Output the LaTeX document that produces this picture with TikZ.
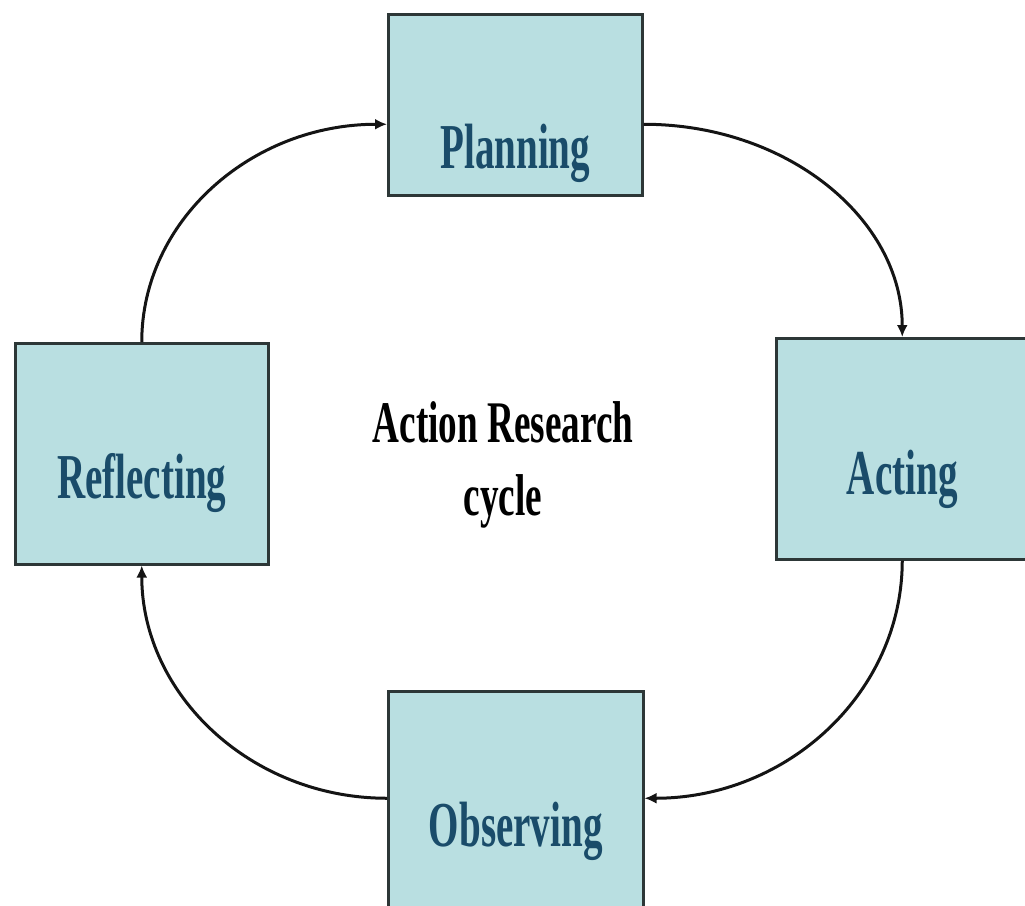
\documentclass[tikz,border=0pt]{standalone}
\usepackage{fontspec}
\newfontfamily\boxfont{Liberation Serif}[FakeStretch=0.61]
\newfontfamily\midfont{Liberation Serif}[FakeStretch=0.63]
\usetikzlibrary{arrows.meta}
\definecolor{boxfill}{RGB}{185,223,225}
\definecolor{boxtext}{RGB}{26,76,106}
\definecolor{boxline}{RGB}{45,55,55}
\definecolor{arrowc}{RGB}{20,20,20}
\begin{document}
\begin{tikzpicture}[x=1pt,y=-1pt,
  stage/.style={draw=boxline, line width=2.5pt, fill=boxfill, inner sep=0pt,
    anchor=north west, align=center, text=boxtext,
    font=\boxfont\bfseries\fontsize{64}{64}\selectfont},
  flow/.style={draw=arrowc, line width=3pt, -{Latex[length=12pt,width=11pt]}}]
\useasboundingbox (0,0) rectangle (1025,905);
\clip (0,0) rectangle (1025,905);
\node[stage, text width=254pt, text height=154pt, text depth=27pt] (plan) at (387,13) {Planning};
\node[stage, text width=252pt, text height=156pt, text depth=65pt] (act) at (775,337) {Acting};
\node[stage, text width=255pt, text height=155pt, text depth=90pt] (obs) at (387,690) {Observing};
\node[stage, text width=253pt, text height=155pt, text depth=66pt] (refl) at (14,342) {Reflecting};
\node[inner sep=0pt, align=center, text=black,
  font=\midfont\bfseries\fontsize{59}{73}\selectfont] (title) at (503,465) {Action Research\\cycle};
\draw[flow] (refl.north) .. controls +(0,-121) and +(-136,0) .. ([yshift=-19.5pt]plan.west);
\draw[flow] ([yshift=-19.5pt]plan.east) .. controls +(144,0) and +(0,-118) .. (act.north);
\draw[flow] (act.south) .. controls +(0,132) and +(143,0) .. ([yshift=15.5pt]obs.east);
\draw[flow] ([yshift=15.5pt]obs.west) .. controls +(-136,0) and +(0,129) .. (refl.south);
\end{tikzpicture}
\end{document}
